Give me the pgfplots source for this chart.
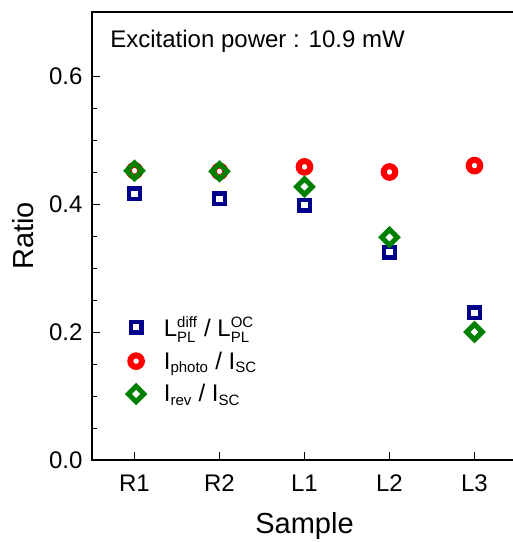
\documentclass[border=0pt]{standalone}
\usepackage{fontspec}
\setmainfont{Liberation Sans}
\usepackage{amsmath}
\usepackage{pgfplots}
\pgfplotsset{compat=1.18}

\definecolor{cnavy}{RGB}{0,0,139}
\definecolor{cred}{RGB}{255,0,0}
\definecolor{cgreen}{RGB}{0,128,0}

% small sub/superscripts in the text font
\newcommand{\sub}[1]{$_{\text{\fontsize{15bp}{15bp}\selectfont #1}}$}
\newcommand{\subsup}[2]{$_{\text{\fontsize{15bp}{15bp}\selectfont #1}}^{\text{\fontsize{15bp}{15bp}\selectfont #2}}$}

\pgfplotstableread{
x sq circ dia
1 0.416 0.452 0.452
2 0.408 0.451 0.451
3 0.398 0.458 0.427
4 0.325 0.450 0.348
5 0.230 0.460 0.200
}\ratiodata

\begin{document}
\begin{tikzpicture}
\useasboundingbox (-92bp,-82bp) rectangle (421bp,460bp);
\begin{axis}[
    scale only axis,
    width=425bp, height=448bp,
    at={(0,0)}, anchor=south west,
    xmin=0.5, xmax=5.5,
    ymin=0, ymax=0.7,
    xtick={1,2,3,4,5},
    xticklabels={R1,R2,L1,L2,L3},
    ytick={0,0.2,0.4,0.6},
    minor y tick num=3,
    yticklabel style={/pgf/number format/fixed,/pgf/number format/fixed zerofill,/pgf/number format/precision=1},
    /pgf/number format/assume math mode=true,
    tick align=inside,
    xtick pos=bottom, ytick pos=left,
    major tick length=8bp, minor tick length=5bp,
    axis line style={line width=1.3bp},
    tick style={line width=1bp, black},
    tick label style={font=\fontsize{24bp}{28bp}\selectfont},
    xticklabel style={yshift=-11bp},
    yticklabel style={xshift=-6bp},
    xlabel={Sample},
    ylabel={Ratio},
    label style={font=\fontsize{29bp}{33bp}\selectfont},
    xlabel style={yshift=-14bp},
    ylabel style={yshift=8bp},
    legend style={at={(rel axis cs:0.078,0.33)}, anchor=north west, draw=none, fill=none,
        font=\fontsize{24bp}{28bp}\selectfont, row sep=10bp,
        /tikz/every odd column/.append style={column sep=18bp}},
    legend cell align=left,
]
\addplot[only marks, mark=square, mark size=5.3bp, line width=4.4bp, cnavy]
    table[x=x,y=sq] {\ratiodata};
\addlegendentry{L\subsup{PL}{diff} / L\subsup{PL}{OC}}
\addplot[only marks, mark=o, mark size=5.8bp, line width=6bp, cred]
    table[x=x,y=circ] {\ratiodata};
\addlegendentry{I\sub{photo} / I\sub{SC}}
\addplot[only marks, mark=square, mark size=5.5bp, line width=5bp, cgreen, mark options={rotate=45}]
    table[x=x,y=dia] {\ratiodata};
\addlegendentry{I\sub{rev} / I\sub{SC}}
\node[anchor=west, font=\fontsize{24bp}{28bp}\selectfont] at (rel axis cs:0.035,0.935) {Excitation power : 10.9 mW};
\end{axis}
\end{tikzpicture}
\end{document}
